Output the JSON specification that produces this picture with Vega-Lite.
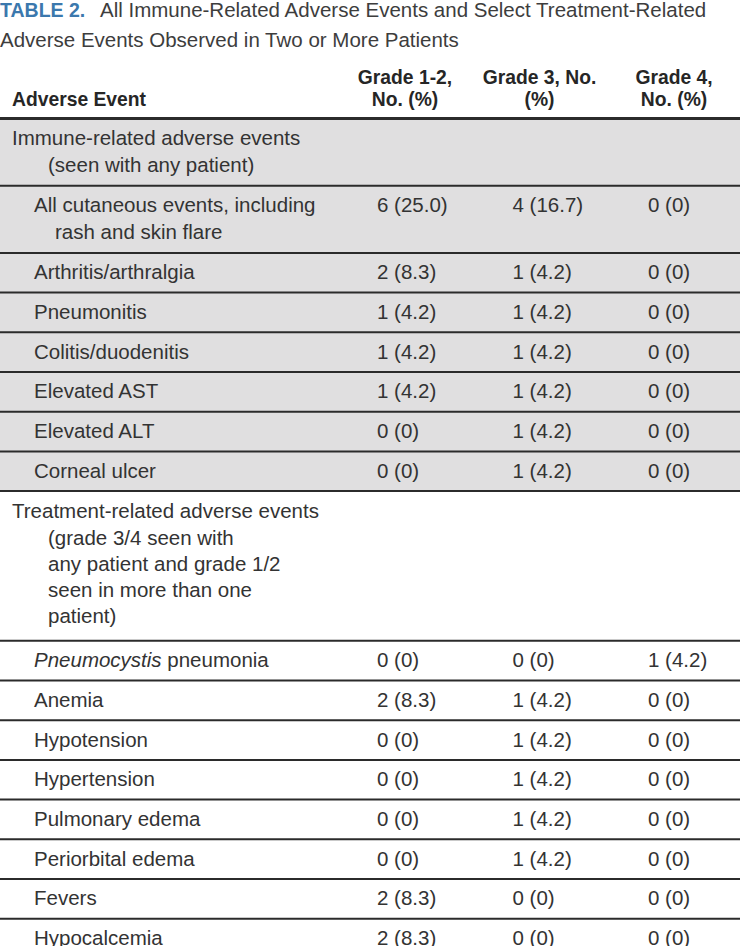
{
  "$schema": "https://vega.github.io/schema/vega-lite/v6.json",
  "width": 740,
  "height": 946,
  "padding": 0,
  "autosize": {"type": "none"},
  "background": "#ffffff",
  "config": {"view": {"stroke": null}, "text": {"font": "Liberation Sans", "fontSize": 20.5, "color": "#333333"}},
  "datasets": {
    "rows": [
      {"row": 0, "section": "irae", "level": 0, "label": "Immune-related adverse events", "cont": "(seen with any patient)"},
      {"row": 1, "section": "irae", "level": 1, "label": "All cutaneous events, including", "cont": "rash and skin flare", "g12": "6 (25.0)", "g3": "4 (16.7)", "g4": "0 (0)"},
      {"row": 2, "section": "irae", "level": 1, "label": "Arthritis/arthralgia", "g12": "2 (8.3)", "g3": "1 (4.2)", "g4": "0 (0)"},
      {"row": 3, "section": "irae", "level": 1, "label": "Pneumonitis", "g12": "1 (4.2)", "g3": "1 (4.2)", "g4": "0 (0)"},
      {"row": 4, "section": "irae", "level": 1, "label": "Colitis/duodenitis", "g12": "1 (4.2)", "g3": "1 (4.2)", "g4": "0 (0)"},
      {"row": 5, "section": "irae", "level": 1, "label": "Elevated AST", "g12": "1 (4.2)", "g3": "1 (4.2)", "g4": "0 (0)"},
      {"row": 6, "section": "irae", "level": 1, "label": "Elevated ALT", "g12": "0 (0)", "g3": "1 (4.2)", "g4": "0 (0)"},
      {"row": 7, "section": "irae", "level": 1, "label": "Corneal ulcer", "g12": "0 (0)", "g3": "1 (4.2)", "g4": "0 (0)"},
      {"row": 8, "section": "trae", "level": 0, "label": "Treatment-related adverse events", "cont": "(grade 3/4 seen with\nany patient and grade 1/2\nseen in more than one\npatient)"},
      {"row": 9, "section": "trae", "level": 1, "labelIt": "Pneumocystis", "label": "pneumonia", "g12": "0 (0)", "g3": "0 (0)", "g4": "1 (4.2)"},
      {"row": 10, "section": "trae", "level": 1, "label": "Anemia", "g12": "2 (8.3)", "g3": "1 (4.2)", "g4": "0 (0)"},
      {"row": 11, "section": "trae", "level": 1, "label": "Hypotension", "g12": "0 (0)", "g3": "1 (4.2)", "g4": "0 (0)"},
      {"row": 12, "section": "trae", "level": 1, "label": "Hypertension", "g12": "0 (0)", "g3": "1 (4.2)", "g4": "0 (0)"},
      {"row": 13, "section": "trae", "level": 1, "label": "Pulmonary edema", "g12": "0 (0)", "g3": "1 (4.2)", "g4": "0 (0)"},
      {"row": 14, "section": "trae", "level": 1, "label": "Periorbital edema", "g12": "0 (0)", "g3": "1 (4.2)", "g4": "0 (0)"},
      {"row": 15, "section": "trae", "level": 1, "label": "Fevers", "g12": "2 (8.3)", "g3": "0 (0)", "g4": "0 (0)"},
      {"row": 16, "section": "trae", "level": 1, "label": "Hypocalcemia", "g12": "2 (8.3)", "g3": "0 (0)", "g4": "0 (0)"}
    ],
    "header": [
      {"key": "g12", "text": "Grade 1-2,\nNo. (%)"},
      {"key": "g3", "text": "Grade 3, No.\n(%)"},
      {"key": "g4", "text": "Grade 4,\nNo. (%)"}
    ],
    "title": [
      {"part": "label", "text": "TABLE 2."},
      {"part": "line1", "text": "All Immune-Related Adverse Events and Select Treatment-Related"},
      {"part": "line2", "text": "Adverse Events Observed in Two or More Patients"}
    ]
  },
  "layer": [
    {
      "data": {"name": "rows"},
      "transform": [
        {"calculate": "1 + (isValid(datum.cont) ? length(split(datum.cont, '\\n')) : 0)", "as": "lines"},
        {"calculate": "datum.lines + 0.4436", "as": "h"},
        {"window": [{"op": "sum", "field": "h", "as": "bottom"}], "sort": [{"field": "row", "order": "ascending"}]},
        {"calculate": "datum.bottom - datum.h", "as": "top"}
      ],
      "layer": [
        {
          "transform": [{"filter": "datum.section === 'irae'"}],
          "mark": {"type": "rect", "color": "#e0dfe0"},
          "encoding": {
            "x": {"value": 0},
            "x2": {"value": "width"},
            "y": {"field": "top", "type": "quantitative", "axis": null, "scale": {"domain": [-4.30909, 30.0909], "reverse": true, "nice": false, "zero": false}},
            "y2": {"field": "bottom"}
          }
        },
        {
          "mark": {"type": "rule", "color": "#2b2b2b", "strokeWidth": 2},
          "encoding": {
            "y": {"field": "bottom", "type": "quantitative", "axis": null, "scale": {"domain": [-4.30909, 30.0909], "reverse": true, "nice": false, "zero": false}},
            "x": {"value": 0},
            "x2": {"value": "width"}
          }
        },
        {
          "transform": [{"filter": "!isValid(datum.labelIt)"}],
          "mark": {"type": "text", "align": "left", "baseline": "middle", "dy": 20.5},
          "encoding": {
            "text": {"field": "label"},
            "x": {"field": "level", "type": "quantitative", "axis": null, "scale": {"domain": [0, 1], "range": [12, 34], "nice": false, "zero": false}},
            "y": {"field": "top", "type": "quantitative", "axis": null, "scale": {"domain": [-4.30909, 30.0909], "reverse": true, "nice": false, "zero": false}}
          }
        },
        {
          "transform": [{"filter": "isValid(datum.labelIt)"}],
          "mark": {"type": "text", "align": "left", "baseline": "middle", "dy": 20.5, "fontStyle": "italic"},
          "encoding": {
            "text": {"field": "labelIt"},
            "x": {"field": "level", "type": "quantitative", "axis": null, "scale": {"domain": [0, 1], "range": [12, 34], "nice": false, "zero": false}},
            "y": {"field": "top", "type": "quantitative", "axis": null, "scale": {"domain": [-4.30909, 30.0909], "reverse": true, "nice": false, "zero": false}}
          }
        },
        {
          "transform": [{"filter": "isValid(datum.labelIt)"}],
          "mark": {"type": "text", "align": "left", "baseline": "middle", "dy": 20.5, "dx": 133.3},
          "encoding": {
            "text": {"field": "label"},
            "x": {"field": "level", "type": "quantitative", "axis": null, "scale": {"domain": [0, 1], "range": [12, 34], "nice": false, "zero": false}},
            "y": {"field": "top", "type": "quantitative", "axis": null, "scale": {"domain": [-4.30909, 30.0909], "reverse": true, "nice": false, "zero": false}}
          }
        },
        {
          "transform": [{"filter": "isValid(datum.cont)"}],
          "mark": {"type": "text", "align": "left", "baseline": "line-top", "lineHeight": 26, "lineBreak": "\n", "dy": 34.8},
          "encoding": {
            "text": {"field": "cont"},
            "x": {"field": "level", "type": "quantitative", "axis": null, "scale": {"domain": [0, 1], "range": [48, 55], "nice": false, "zero": false}},
            "y": {"field": "top", "type": "quantitative", "axis": null, "scale": {"domain": [-4.30909, 30.0909], "reverse": true, "nice": false, "zero": false}}
          }
        },
        {
          "transform": [
            {"fold": ["g12", "g3", "g4"], "as": ["key", "val"]},
            {"filter": "isValid(datum.val)"}
          ],
          "mark": {"type": "text", "align": "left", "baseline": "middle", "dy": 20.5},
          "encoding": {
            "text": {"field": "val"},
            "x": {"field": "key", "type": "nominal", "axis": null, "scale": {"type": "point", "domain": ["g12", "g3", "g4"], "range": [377, 648], "padding": 0}},
            "y": {"field": "top", "type": "quantitative", "axis": null, "scale": {"domain": [-4.30909, 30.0909], "reverse": true, "nice": false, "zero": false}}
          }
        }
      ],
      "resolve": {"scale": {"x": "independent"}}
    },
    {
      "data": {"name": "header"},
      "layer": [
        {
          "mark": {"type": "rule", "color": "#2b2b2b", "strokeWidth": 3},
          "encoding": {
            "y": {"datum": 0, "type": "quantitative", "axis": null, "scale": {"domain": [-4.30909, 30.0909], "reverse": true, "nice": false, "zero": false}},
            "x": {"value": 0},
            "x2": {"value": "width"}
          }
        },
        {
          "mark": {"type": "text", "align": "center", "baseline": "line-top", "lineHeight": 22, "lineBreak": "\n", "dy": -52, "fontWeight": "bold", "fontSize": 19.3, "color": "#262626"},
          "encoding": {
            "text": {"field": "text"},
            "x": {"field": "key", "type": "nominal", "axis": null, "scale": {"type": "point", "domain": ["g12", "g3", "g4"], "range": [405, 674], "padding": 0}},
            "y": {"datum": 0, "type": "quantitative", "axis": null, "scale": {"domain": [-4.30909, 30.0909], "reverse": true, "nice": false, "zero": false}}
          }
        },
        {
          "data": {"values": [{"text": "Adverse Event"}]},
          "mark": {"type": "text", "align": "left", "baseline": "line-top", "lineHeight": 22, "dy": -30, "fontWeight": "bold", "fontSize": 19.3, "color": "#262626"},
          "encoding": {
            "text": {"field": "text"},
            "x": {"value": 12},
            "y": {"datum": 0, "type": "quantitative", "axis": null, "scale": {"domain": [-4.30909, 30.0909], "reverse": true, "nice": false, "zero": false}}
          }
        }
      ],
      "resolve": {"scale": {"x": "independent"}}
    },
    {
      "data": {"name": "title"},
      "layer": [
        {
          "transform": [{"filter": "datum.part === 'label'"}],
          "mark": {"type": "text", "align": "left", "baseline": "alphabetic", "fontWeight": "bold", "fontSize": 19.5, "color": "#3b78ad"},
          "encoding": {"text": {"field": "text"}, "x": {"value": 0}, "y": {"value": 17}}
        },
        {
          "transform": [{"filter": "datum.part === 'line1'"}],
          "mark": {"type": "text", "align": "left", "baseline": "alphabetic", "fontSize": 20.5, "color": "#3d3d3d"},
          "encoding": {"text": {"field": "text"}, "x": {"value": 100}, "y": {"value": 17}}
        },
        {
          "transform": [{"filter": "datum.part === 'line2'"}],
          "mark": {"type": "text", "align": "left", "baseline": "alphabetic", "fontSize": 20.5, "color": "#3d3d3d"},
          "encoding": {"text": {"field": "text"}, "x": {"value": 0}, "y": {"value": 47}}
        }
      ]
    }
  ],
  "resolve": {"scale": {"x": "independent"}}
}
